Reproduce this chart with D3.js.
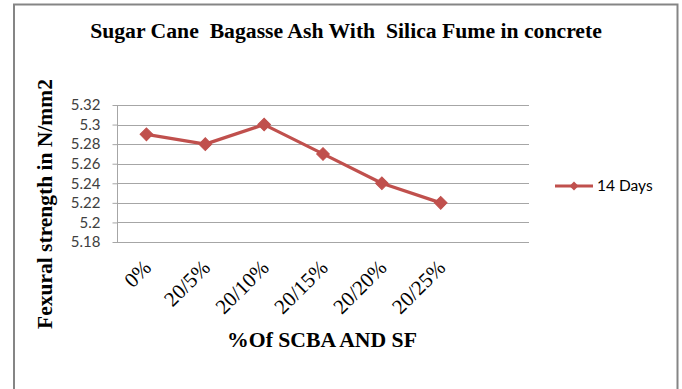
<!DOCTYPE html>
<html>
<head>
<meta charset="utf-8">
<script src="https://cdn.jsdelivr.net/npm/d3@7"></script>
<style>
  html, body { margin: 0; padding: 0; background: #fff; }
  svg { display: block; }
</style>
</head>
<body>
<svg id="chart" width="682" height="389"></svg>
<script>
// Flexural strength at 14 days for each SCBA / SF replacement mix
const categories = ["0%", "20/5%", "20/10%", "20/15%", "20/20%", "20/25%"];
const strength14 = [5.29, 5.28, 5.30, 5.27, 5.24, 5.22];
const yTicks = [5.18, 5.2, 5.22, 5.24, 5.26, 5.28, 5.3, 5.32];
const seriesName = "14 Days";

const svg = d3.select("#chart");
const W = 682, H = 389;

// outer frame (bottom edge runs off the page)
svg.append("path")
  .attr("d", `M14,${H + 5} V4.5 H677.5 V${H + 5}`)
  .attr("fill", "none")
  .attr("stroke", "#858585")
  .attr("stroke-width", 2);

const plot = { left: 117, right: 529, top: 105, bottom: 242 };
const slots = categories.length + 1;               // axis keeps one empty slot on the right
const band = (plot.right - plot.left) / slots;

const x = d3.scaleBand()
  .domain(categories)
  .range([plot.left, plot.left + band * categories.length]);

const y = d3.scaleLinear()
  .domain([5.18, 5.32])
  .range([plot.bottom, plot.top]);

// horizontal gridlines
svg.append("g")
  .selectAll("line")
  .data(yTicks)
  .join("line")
  .attr("x1", plot.left)
  .attr("x2", plot.right)
  .attr("y1", d => Math.round(y(d)) + 0.5)
  .attr("y2", d => Math.round(y(d)) + 0.5)
  .attr("stroke", "#a6a6a6")
  .attr("stroke-width", 1);

// y axis
const yAxis = svg.append("g")
  .attr("transform", `translate(${plot.left + 0.5},0)`)
  .call(d3.axisLeft(y).tickValues(yTicks).tickFormat(d3.format("")).tickSize(5).tickPadding(12));
yAxis.select(".domain").attr("stroke", "#a6a6a6").attr("d", `M0,${plot.top}V${plot.bottom + 0.5}`);
yAxis.selectAll(".tick line").attr("stroke", "#a6a6a6");
yAxis.selectAll(".tick text")
  .attr("font-family", "Lato, 'Open Sans', sans-serif")
  .attr("font-size", 15)
  .attr("fill", "#404040");

const serif = "'Liberation Serif', 'Times New Roman', serif";

// x category labels, rotated
svg.append("g")
  .selectAll("text")
  .data(categories)
  .join("text")
  .attr("transform", d => `translate(${x(d) + x.bandwidth() / 2 + 6},${plot.bottom + 27}) rotate(-45)`)
  .attr("text-anchor", "end")
  .attr("font-family", serif)
  .attr("font-size", 21)
  .attr("fill", "#000")
  .text(d => d);

// series line
const line = d3.line()
  .x((d, i) => x(categories[i]) + x.bandwidth() / 2)
  .y(d => y(d));

const red = "#c0504d";
svg.append("path")
  .datum(strength14)
  .attr("d", line)
  .attr("fill", "none")
  .attr("stroke", red)
  .attr("stroke-width", 3.2)
  .attr("stroke-linejoin", "round");

const diamond = d3.symbol().type(d3.symbolSquare).size(80);
svg.append("g")
  .selectAll("path")
  .data(strength14)
  .join("path")
  .attr("transform", (d, i) => `translate(${x(categories[i]) + x.bandwidth() / 2},${y(d)}) rotate(45)`)
  .attr("d", diamond)
  .attr("fill", red)
  .attr("stroke", red)
  .attr("stroke-width", 1);

// legend
const lg = svg.append("g").attr("transform", "translate(555,186)");
lg.append("line").attr("x1", 0).attr("x2", 38).attr("y1", 0).attr("y2", 0)
  .attr("stroke", red).attr("stroke-width", 3);
lg.append("path").attr("transform", "translate(19,0) rotate(45)")
  .attr("d", d3.symbol().type(d3.symbolSquare).size(40)).attr("fill", red);
lg.append("text").attr("x", 42).attr("y", 5)
  .attr("font-family", "Lato, 'Open Sans', sans-serif")
  .attr("font-size", 15.5)
  .attr("fill", "#000")
  .text(seriesName);

// titles
svg.append("text")
  .attr("x", 346).attr("y", 38)
  .attr("text-anchor", "middle")
  .attr("font-family", serif).attr("font-weight", "bold").attr("font-size", 21.7)
  .attr("xml:space", "preserve")
  .text("Sugar Cane  Bagasse Ash With  Silica Fume in concrete");

svg.append("text")
  .attr("x", 322).attr("y", 347)
  .attr("text-anchor", "middle")
  .attr("font-family", serif).attr("font-weight", "bold").attr("font-size", 21.7)
  .text("%Of SCBA AND SF");

svg.append("text")
  .attr("transform", "translate(52,204) rotate(-90)")
  .attr("text-anchor", "middle")
  .attr("font-family", serif).attr("font-weight", "bold").attr("font-size", 21.5)
  .text("Fexural strength in N/mm2");
</script>
</body>
</html>
